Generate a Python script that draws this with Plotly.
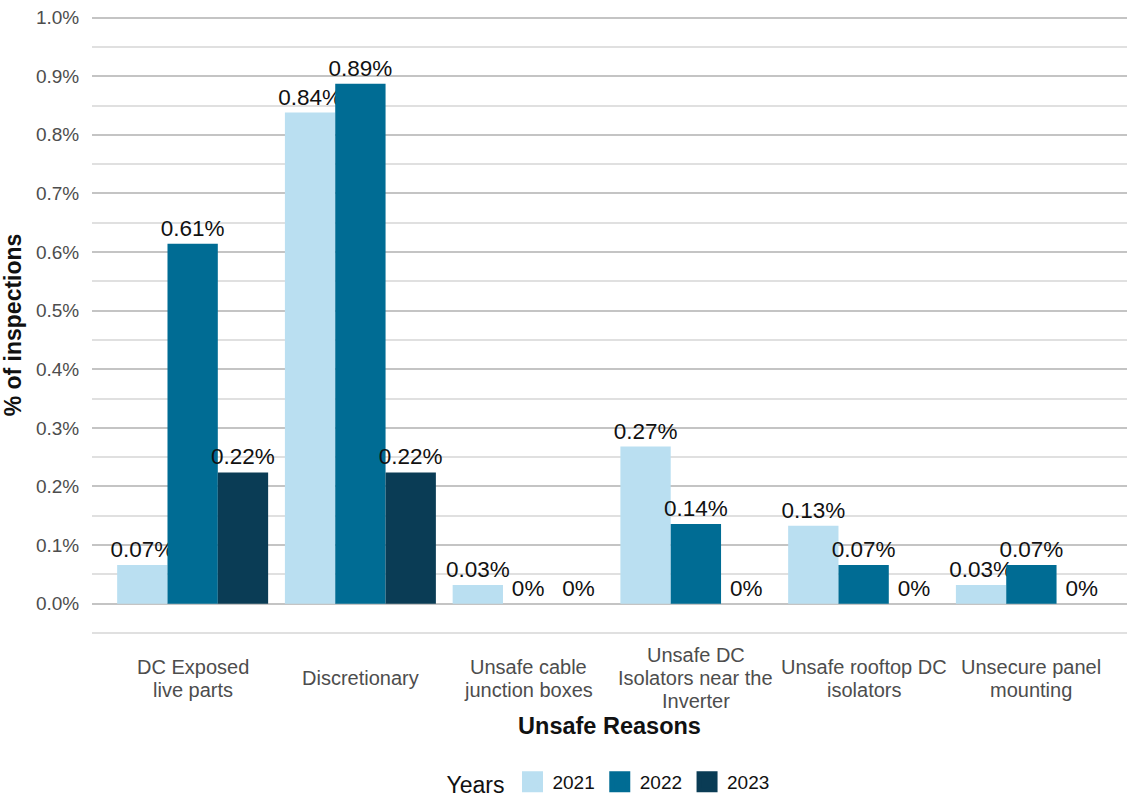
import plotly.graph_objects as go

# Unsafe inspection reasons (x categories), one entry per label line
categories = [
    ["DC Exposed", "live parts"],
    ["Discretionary"],
    ["Unsafe cable", "junction boxes"],
    ["Unsafe DC", "Isolators near the", "Inverter"],
    ["Unsafe rooftop DC", "isolators"],
    ["Unsecure panel", "mounting"],
]

years = ["2021", "2022", "2023"]

# Share of inspections (%) per reason and year
pct_2021 = [0.066, 0.838, 0.032, 0.268, 0.133, 0.032]
pct_2022 = [0.614, 0.887, 0.0, 0.136, 0.066, 0.066]
pct_2023 = [0.224, 0.224, 0.0, 0.0, 0.0, 0.0]

colors = ["#BADFF1", "#006C94", "#0A3C55"]

series = [pct_2021, pct_2022, pct_2023]


def fmt(v):
    r = round(v, 2)
    return f"{r:g}%"


fig = go.Figure()
xs = list(range(len(categories)))
for name, vals, col in zip(years, series, colors):
    fig.add_trace(go.Bar(
        x=xs, y=vals, name=name,
        marker=dict(color=col, line=dict(width=0)),
        text=[fmt(v) for v in vals],
        textposition="outside",
        textfont=dict(size=22.5, color="#111111", family="Liberation Sans"),
        constraintext="none",
        cliponaxis=False,
        showlegend=False,
    ))
    # legend entry with a larger square swatch
    fig.add_trace(go.Scatter(
        x=[None], y=[None], mode="markers", name=name,
        marker=dict(symbol="square", size=18, color=col,
                    line=dict(width=5, color=col)),
        showlegend=True,
    ))

# Category labels, each block vertically centred beneath its group
LINE_GAP = 23
for i, lines in enumerate(categories):
    n = len(lines)
    for j, line in enumerate(lines):
        offset = (j - (n - 1) / 2) * LINE_GAP
        fig.add_annotation(
            x=i, y=0, xref="x", yref="paper",
            text=line, showarrow=False,
            yanchor="middle", yshift=-38 - offset,
            font=dict(size=20, color="#4D4D4D", family="Liberation Sans"),
        )

fig.update_layout(
    width=1127, height=798,
    margin=dict(l=92, r=0, t=10, b=158),
    paper_bgcolor="white", plot_bgcolor="white",
    barmode="group", bargap=0.1, bargroupgap=0,
    font=dict(family="Liberation Sans", color="#4D4D4D"),
    showlegend=True,
    legend=dict(
        orientation="h", x=0.5, xanchor="center",
        yref="container", y=15 / 798, yanchor="middle",
        title=dict(text="Years", font=dict(size=23, color="#111111")),
        font=dict(size=19, color="#111111"),
        itemsizing="trace",
    ),
    xaxis=dict(
        range=[-0.6, 5.57], showticklabels=False, showgrid=False,
        zeroline=False, showline=False, ticks="",
        title=dict(text="<b>Unsafe Reasons</b>", standoff=77,
                   font=dict(size=23.5, color="#111111")),
        automargin=False,
    ),
    yaxis=dict(
        range=[-0.062, 1.013], dtick=0.1, tick0=0,
        tickformat=".1f", ticksuffix="%",
        tickfont=dict(size=19, color="#4D4D4D"),
        ticks="outside", ticklen=8, tickcolor="rgba(0,0,0,0)",
        showgrid=True, gridcolor="#C4C4C4", gridwidth=2,
        minor=dict(dtick=0.05, showgrid=True, gridcolor="#E0E0E0", gridwidth=1.5),
        zeroline=False, showline=False,
        title=dict(text="<b>% of inspections</b>", standoff=7,
                   font=dict(size=23, color="#111111")),
        automargin=False,
    ),
)

fig.write_html("out.html")
